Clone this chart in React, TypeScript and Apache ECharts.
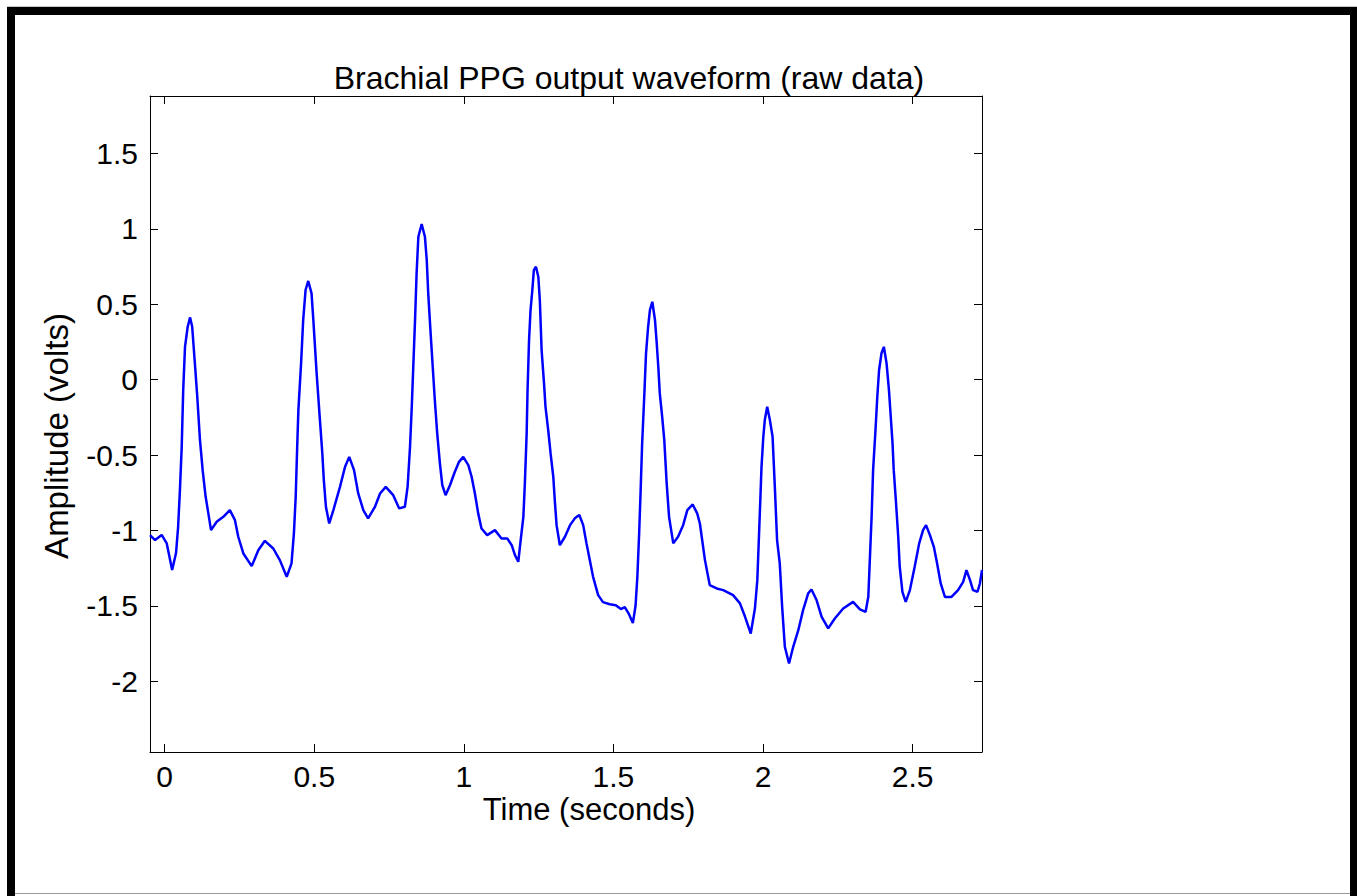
import React, { useEffect, useRef } from "react";
import * as echarts from "echarts";

const TITLE = "Brachial PPG output waveform (raw data)";
const X_NAME = "Time (seconds)";
const Y_NAME = "Amplitude (volts)";

const X_TICKS = [0, 0.5, 1, 1.5, 2, 2.5];
const Y_TICKS = [-2, -1.5, -1, -0.5, 0, 0.5, 1, 1.5];
const X_MIN = -0.049;
const X_MAX = 2.732;
const Y_MIN = -2.47;
const Y_MAX = 1.882;

const TIME = [
  -0.049, -0.032, -0.010, 0.007, 0.025, 0.038, 0.045, 0.051, 0.057, 0.062,
  0.068, 0.077, 0.085, 0.092, 0.101, 0.109, 0.118, 0.127, 0.137, 0.146,
  0.155, 0.174, 0.196, 0.218, 0.235, 0.246, 0.263, 0.291, 0.313, 0.335,
  0.363, 0.385, 0.408, 0.424, 0.432, 0.438, 0.443, 0.447, 0.456, 0.463,
  0.471, 0.480, 0.491, 0.497, 0.508, 0.519, 0.527, 0.532, 0.539, 0.550,
  0.564, 0.586, 0.603, 0.617, 0.633, 0.647, 0.664, 0.680, 0.703, 0.720,
  0.739, 0.764, 0.784, 0.803, 0.812, 0.820, 0.826, 0.831, 0.837, 0.842,
  0.848, 0.859, 0.870, 0.876, 0.881, 0.889, 0.896, 0.903, 0.911, 0.920,
  0.928, 0.939, 0.954, 0.970, 0.984, 0.998, 1.015, 1.026, 1.037, 1.048,
  1.059, 1.078, 1.104, 1.126, 1.145, 1.160, 1.171, 1.182, 1.190, 1.199,
  1.204, 1.210, 1.213, 1.218, 1.223, 1.229, 1.234, 1.241, 1.249, 1.254,
  1.260, 1.268, 1.273, 1.282, 1.290, 1.299, 1.304, 1.310, 1.321, 1.338,
  1.355, 1.371, 1.386, 1.399, 1.410, 1.421, 1.432, 1.449, 1.465, 1.488,
  1.508, 1.525, 1.538, 1.552, 1.565, 1.574, 1.580, 1.586, 1.591, 1.596,
  1.603, 1.609, 1.616, 1.622, 1.630, 1.639, 1.644, 1.650, 1.655, 1.663,
  1.670, 1.678, 1.686, 1.700, 1.716, 1.733, 1.747, 1.765, 1.780, 1.789,
  1.806, 1.822, 1.845, 1.867, 1.900, 1.923, 1.940, 1.959, 1.973, 1.981,
  1.986, 1.991, 1.995, 2.001, 2.006, 2.014, 2.023, 2.032, 2.040, 2.047,
  2.056, 2.064, 2.073, 2.087, 2.101, 2.118, 2.134, 2.151, 2.162, 2.179,
  2.196, 2.218, 2.240, 2.268, 2.301, 2.324, 2.343, 2.352, 2.357, 2.363,
  2.368, 2.376, 2.382, 2.388, 2.396, 2.404, 2.413, 2.421, 2.427, 2.433,
  2.437, 2.444, 2.452, 2.457, 2.466, 2.477, 2.491, 2.507, 2.522, 2.535,
  2.545, 2.558, 2.571, 2.582, 2.594, 2.608, 2.630, 2.652, 2.669, 2.680,
  2.692, 2.702, 2.717, 2.725, 2.732,
];

const AMPLITUDE = [
  -1.031, -1.064, -1.03, -1.086, -1.263, -1.15, -0.976, -0.733, -0.445, -0.069,
  0.218, 0.351, 0.413, 0.351, 0.108, -0.113, -0.40, -0.60, -0.777, -0.887,
  -0.998, -0.943, -0.910, -0.865, -0.932, -1.042, -1.153, -1.237, -1.131, -1.069,
  -1.12, -1.197, -1.308, -1.219, -1.02, -0.777, -0.445, -0.202, 0.108, 0.395,
  0.595, 0.655, 0.573, 0.395, 0.042, -0.268, -0.489, -0.666, -0.843, -0.954,
  -0.865, -0.711, -0.578, -0.512, -0.60, -0.755, -0.865, -0.920, -0.843, -0.755,
  -0.711, -0.766, -0.854, -0.843, -0.711, -0.45, -0.18, 0.086, 0.40, 0.70,
  0.948, 1.033, 0.948, 0.794, 0.573, 0.307, 0.086, -0.135, -0.356, -0.555,
  -0.699, -0.766, -0.699, -0.611, -0.545, -0.512, -0.567, -0.644, -0.755, -0.887,
  -0.987, -1.031, -0.998, -1.053, -1.053, -1.098, -1.164, -1.208, -1.064, -0.910,
  -0.688, -0.356, -0.069, 0.263, 0.462, 0.595, 0.727, 0.749, 0.683, 0.528,
  0.196, -0.025, -0.18, -0.334, -0.489, -0.644, -0.799, -0.965, -1.098, -1.042,
  -0.965, -0.920, -0.898, -0.965, -1.086, -1.197, -1.308, -1.429, -1.476, -1.49,
  -1.496, -1.522, -1.509, -1.556, -1.615, -1.50, -1.308, -1.02, -0.733, -0.423,
  -0.113, 0.175, 0.351, 0.462, 0.517, 0.395, 0.263, 0.086, -0.091, -0.246,
  -0.401, -0.688, -0.910, -1.086, -1.042, -0.965, -0.865, -0.828, -0.887, -0.954,
  -1.197, -1.363, -1.385, -1.396, -1.429, -1.484, -1.573, -1.684, -1.518, -1.33,
  -1.064, -0.799, -0.578, -0.379, -0.268, -0.18, -0.268, -0.379, -0.733, -1.064,
  -1.219, -1.507, -1.772, -1.883, -1.772, -1.662, -1.529, -1.418, -1.392, -1.462,
  -1.573, -1.65, -1.584, -1.518, -1.474, -1.524, -1.540, -1.44, -1.197, -0.910,
  -0.60, -0.334, -0.113, 0.064, 0.175, 0.218, 0.108, -0.069, -0.246, -0.423,
  -0.60, -0.799, -1.042, -1.241, -1.407, -1.474, -1.396, -1.241, -1.086, -0.998,
  -0.965, -1.031, -1.109, -1.219, -1.352, -1.441, -1.441, -1.396, -1.341, -1.263,
  -1.33, -1.396, -1.407, -1.352, -1.263,
];

const FONT = "'Liberation Sans', Arial, Helvetica, sans-serif";

export default function App() {
  const ref = useRef<HTMLDivElement>(null);

  useEffect(() => {
    if (!ref.current) return;
    const chart = echarts.init(ref.current, null, { renderer: "svg" });
    const data = TIME.map((t, i) => [t, AMPLITUDE[i]]);

    const axisLine = { show: true, onZero: false, lineStyle: { color: "#000", width: 1 } };
    const tick = (vals: number[]) => ({
      show: true,
      inside: true,
      length: 8,
      customValues: vals,
      lineStyle: { color: "#000", width: 1 },
    });

    chart.setOption({
      animation: false,
      backgroundColor: "#fff",
      title: {
        text: TITLE,
        left: 624,
        top: 73,
        textAlign: "center",
        textVerticalAlign: "middle",
        textStyle: { fontFamily: FONT, fontSize: 32, fontWeight: "normal", color: "#000" },
      },
      grid: { left: 150, top: 96, width: 832, height: 656, containLabel: false },
      xAxis: [
        {
          type: "value",
          position: "bottom",
          min: X_MIN,
          max: X_MAX,
          axisLine,
          splitLine: { show: false },
          axisTick: tick(X_TICKS),
          axisLabel: {
            show: true,
            customValues: X_TICKS,
            margin: 9,
            fontFamily: FONT,
            fontSize: 30,
            color: "#000",
            formatter: (v: number) => String(v),
          },
        },
        {
          type: "value",
          position: "top",
          min: X_MIN,
          max: X_MAX,
          axisLine,
          splitLine: { show: false },
          axisTick: tick(X_TICKS),
          axisLabel: { show: false },
        },
      ],
      yAxis: [
        {
          type: "value",
          position: "left",
          min: Y_MIN,
          max: Y_MAX,
          axisLine,
          splitLine: { show: false },
          axisTick: tick(Y_TICKS),
          axisLabel: {
            show: true,
            customValues: Y_TICKS,
            margin: 12,
            fontFamily: FONT,
            fontSize: 30,
            color: "#000",
            formatter: (v: number) => String(v),
          },
        },
        {
          type: "value",
          position: "right",
          min: Y_MIN,
          max: Y_MAX,
          axisLine,
          splitLine: { show: false },
          axisTick: tick(Y_TICKS),
          axisLabel: { show: false },
        },
      ],
      series: [
        {
          type: "line",
          data,
          xAxisIndex: 0,
          yAxisIndex: 0,
          showSymbol: false,
          smooth: false,
          lineStyle: { color: "#0000ff", width: 2.5 },
          clip: true,
        },
      ],
      graphic: [
        { type: "rect", shape: { x: 7, y: 6, width: 1350, height: 1 }, style: { fill: "#c8c8c8" }, silent: true },
        { type: "rect", shape: { x: 7, y: 7, width: 1350, height: 8 }, style: { fill: "#000" }, silent: true },
        { type: "rect", shape: { x: 7, y: 7, width: 8, height: 889 }, style: { fill: "#000" }, silent: true },
        { type: "rect", shape: { x: 1350, y: 7, width: 7, height: 889 }, style: { fill: "#000" }, silent: true },
        { type: "rect", shape: { x: 15, y: 893, width: 1335, height: 1 }, style: { fill: "#999" }, silent: true },
        {
          type: "text",
          x: 589,
          y: 809,
          style: {
            text: X_NAME,
            fontFamily: FONT,
            fontSize: 31,
            fill: "#000",
            align: "center",
            verticalAlign: "middle",
          },
        },
        {
          type: "text",
          x: 56,
          y: 436,
          rotation: Math.PI / 2,
          style: {
            text: Y_NAME,
            fontFamily: FONT,
            fontSize: 33,
            fill: "#000",
            align: "center",
            verticalAlign: "middle",
          },
        },
      ],
    });

    return () => chart.dispose();
  }, []);

  return (
    <div
      ref={ref}
      style={{ position: "fixed", left: 0, top: 0, width: 1357, height: 896 }}
    />
  );
}
